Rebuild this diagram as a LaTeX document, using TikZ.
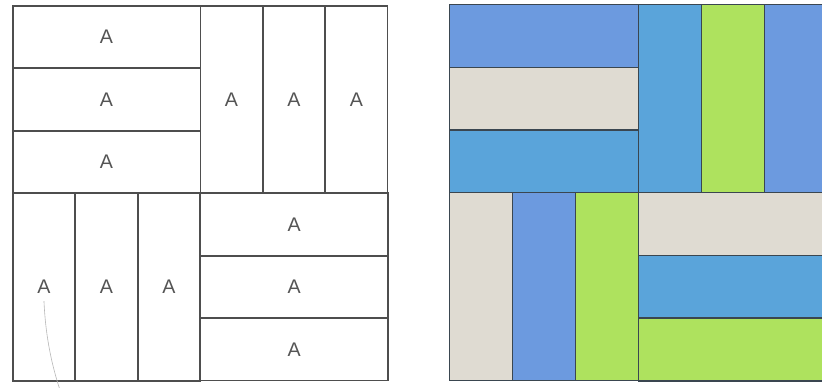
\documentclass[tikz,border=0pt]{standalone}
\usepackage{fontspec}
\setsansfont{Liberation Sans}
\usepackage{tikz}
\usetikzlibrary{positioning}
\usepackage{xcolor}
\definecolor{LineGray}{HTML}{4E4E4E}
\definecolor{TextGray}{HTML}{555555}
\definecolor{EdgeSlate}{HTML}{3A4650}
\definecolor{Cornflower}{HTML}{6C9ADF}
\definecolor{SkyBlue}{HTML}{5AA4DA}
\definecolor{Lime}{HTML}{AEE25E}
\definecolor{Sand}{HTML}{DFDBD2}
\definecolor{Pencil}{HTML}{B8B8B8}

\tikzset{
  cell/.style={draw=LineGray,line width=0.38mm,inner sep=0pt,anchor=north west,text=TextGray},
  hbar/.style={cell,minimum width=46.9mm,minimum height=15.6mm},
  vbar/.style={cell,minimum width=15.6mm,minimum height=46.9mm},
  tile/.style={draw=EdgeSlate,line width=0.33mm,inner sep=0pt,anchor=north west},
  htile/.style={tile,minimum width=47.2mm,minimum height=15.7mm},
  vtile/.style={tile,minimum width=15.7mm,minimum height=47.0mm}
}

\begin{document}
\begin{tikzpicture}[x=0.25mm,y=-0.25mm,every node/.style={font=\sffamily\fontsize{14}{16}\selectfont}]
  \useasboundingbox[fill=white] (0,0) rectangle (822,388);
  % left block: layout with labels
  \foreach \i in {0,1,2}{
    \node[hbar] (tl\i) at (12,5+62.5*\i) {A};
    \node[vbar] (tr\i) at (199.5+62.5*\i,5) {A};
    \node[vbar] (bl\i) at (12+62.5*\i,192.5) {A};
    \node[hbar] (br\i) at (199.5,192.5+62.5*\i) {A};
  }
  % pencil stroke under the first label
  \coordinate (tail) at (60,390);
  \draw[Pencil,line width=0.15mm] ([yshift=-3.5mm]bl0.center) .. controls +(0.4mm,-9mm) and +(-2mm,6mm) .. (tail);
  % right block: coloured quilt
  \foreach \i/\c in {0/Cornflower,1/Sand,2/SkyBlue}{
    \node[htile,fill=\c] (qtl\i) at (449,4+62.7*\i) {};
  }
  \foreach \i/\c in {0/SkyBlue,1/Lime,2/Cornflower}{
    \node[vtile,fill=\c] (qtr\i) at (638+63*\i,4) {};
  }
  \foreach \i/\c in {0/Sand,1/Cornflower,2/Lime}{
    \node[vtile,fill=\c] (qbl\i) at (449+63*\i,192) {};
  }
  \foreach \i/\c in {0/Sand,1/SkyBlue,2/Lime}{
    \node[htile,fill=\c] (qbr\i) at (638,192+62.7*\i) {};
  }
\end{tikzpicture}
\end{document}
